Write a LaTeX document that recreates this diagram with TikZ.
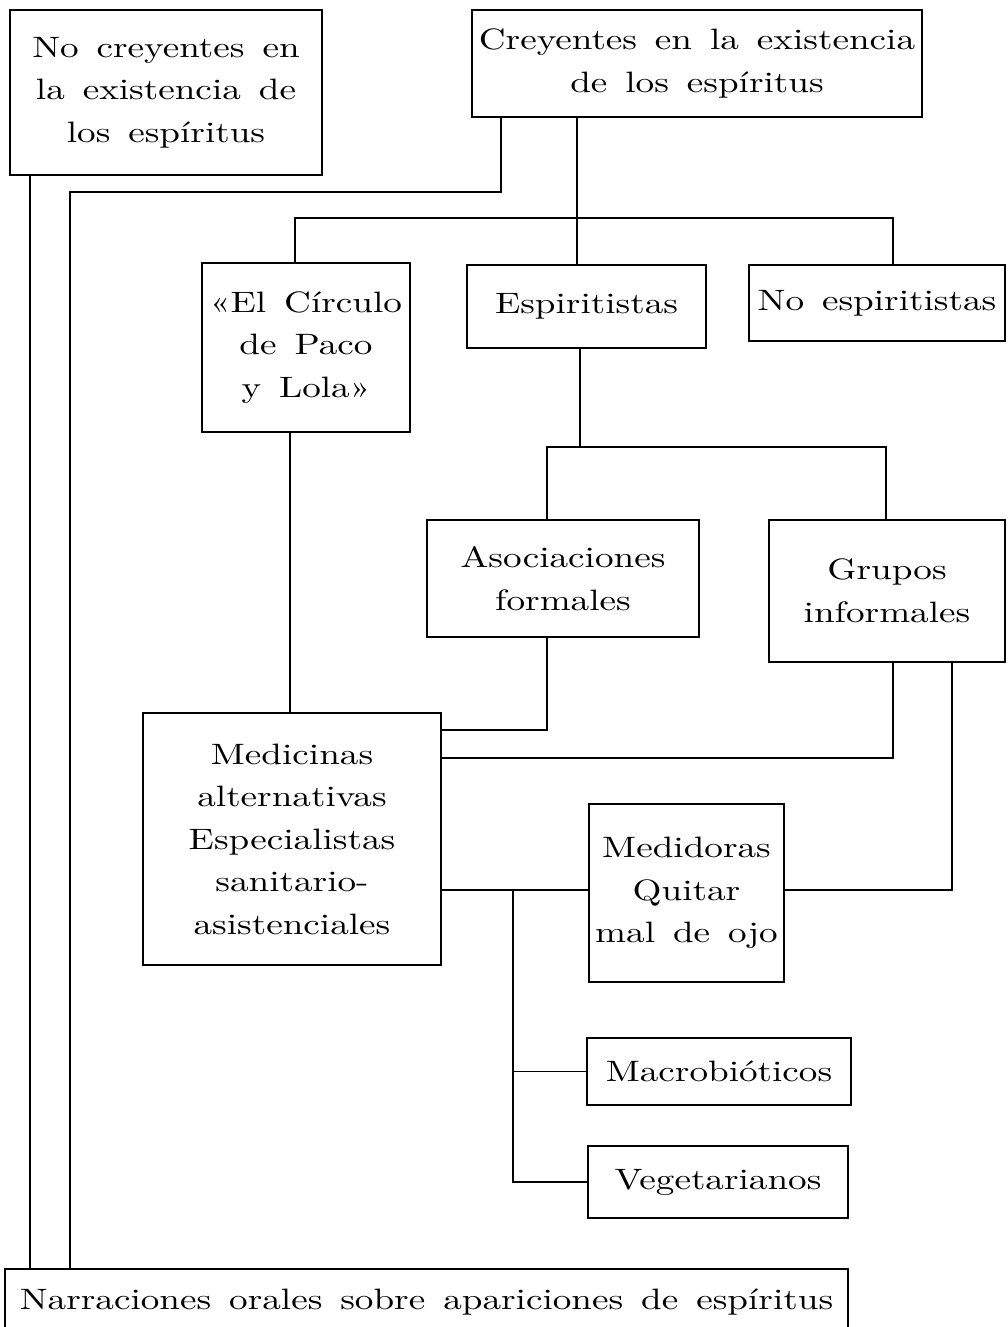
\documentclass[tikz,border=0pt]{standalone}
\usepackage{fontspec}
\setmainfont{lmroman10-regular.otf}[FakeStretch=1.26, WordSpace=1.45]
\begin{document}
\begin{tikzpicture}[x=1pt,y=-1pt,
  box/.style={draw, line width=1.1pt, align=center, inner sep=0pt, font=\fontsize{29.5}{42.5}\selectfont},
  thickbox/.style={box, line width=2.4pt},
  conn/.style={line width=1.1pt}]
\clip (0,0) rectangle (1007,1327);
\fill[white] (0,0) rectangle (1007,1327);
% nodes
\node[box, minimum width=312, minimum height=165] (nc) at (166,92.5) {No creyentes en\\la existencia de\\los espíritus};
\node[box, minimum width=450, minimum height=107] (cr) at (697,63.5) {Creyentes en la existencia\\de los espíritus};
\node[box, minimum width=208, minimum height=169] (ci) at (306,347.5) {«El Círculo\\de Paco\\y Lola»};
\node[box, minimum width=239, minimum height=83] (es) at (586.5,306.5) {Espiritistas};
\node[box, minimum width=256, minimum height=76] (noe) at (877,303) {No espiritistas};
\node[box, minimum width=272, minimum height=117] (as) at (563,578.5) {Asociaciones\\formales};
\node[thickbox, minimum width=236, minimum height=142] (gr) at (887,591) {Grupos\\informales};
\node[box, minimum width=298, minimum height=252] (me) at (292,839) {Medicinas\\alternativas\\Especialistas\\sanitario-\\asistenciales};
\node[box, minimum width=195, minimum height=178] (md) at (686.5,893) {Medidoras\\Quitar\\mal de ojo};
\node[box, minimum width=264, minimum height=67] (mac) at (719,1071.5) {Macrobióticos};
\node[box, minimum width=260, minimum height=72] (veg) at (718,1182) {Vegetarianos};
\node[box, minimum width=843, minimum height=66] (nar) at (426.5,1302) {Narraciones orales sobre apariciones de espíritus};
% helper coordinates
\coordinate (k1) at (70,192);
\coordinate (k2) at (295,218);
\coordinate (k3) at (893,218);
\coordinate (k4) at (547,447);
\coordinate (k5) at (886,447);
\coordinate (j) at (513,890);
% connectors
\draw[conn] (cr.south -| 501,0) |- (k1) -- (nar.north -| k1);
\draw[conn] (nc.south -| 30,0) -- (nar.north -| 30,0);
\draw[conn] (cr.south -| 577,0) -- (es.north -| 577,0);
\draw[conn] (ci.north -| k2) -- (k2) -- (k3) -- (noe.north -| k3);
\draw[conn] (es.south -| 580,0) -- (580,447);
\draw[conn] (as.north -| k4) -- (k4) -- (k5) -- (gr.north -| k5);
\draw[conn] (ci.south -| 290,0) -- (me.north -| 290,0);
\draw[conn] (as.south -| 547,0) |- (me.east |- 0,730);
\draw[conn] (gr.south -| 893,0) |- (me.east |- 0,758);
\draw[conn] (gr.south -| 952,0) |- (md.east |- 0,890);
\draw[conn] (me.east |- j) -- (md.west |- j);
\draw[conn] (j) -- (j |- veg.west) -- (veg.west);
\draw[conn] (j |- mac.west) -- (mac.west);
\end{tikzpicture}
\end{document}
